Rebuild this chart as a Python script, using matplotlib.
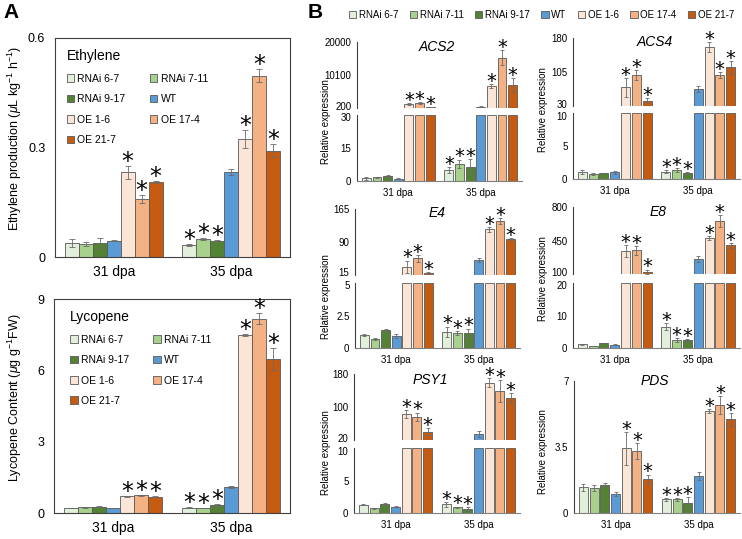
import matplotlib
matplotlib.use('Agg')
import matplotlib.pyplot as plt
from matplotlib.patches import Patch
from matplotlib.transforms import ScaledTranslation

plt.rcParams['font.family'] = ['Liberation Sans', 'DejaVu Sans']
plt.rcParams['mathtext.fontset'] = 'custom'
plt.rcParams['mathtext.rm'] = 'Liberation Sans'
plt.rcParams['mathtext.it'] = 'Liberation Sans:italic'

lines = ['RNAi 6-7', 'RNAi 7-11', 'RNAi 9-17', 'WT', 'OE 1-6', 'OE 17-4', 'OE 21-7']
colors = ['#e2efda', '#a9d18e', '#548235', '#5b9bd5', '#fbe5d6', '#f4b183', '#c55a11']
stages = ['31 dpa', '35 dpa']
# 1 = marked with an asterisk
sig = [[0, 0, 0, 0, 1, 1, 1],
       [1, 1, 1, 0, 1, 1, 1]]

ethylene = [[0.038, 0.036, 0.039, 0.045, 0.232, 0.159, 0.206],
            [0.032, 0.049, 0.045, 0.232, 0.323, 0.497, 0.291]]
ethylene_err = [[0.010, 0.006, 0.013, 0.002, 0.017, 0.010, 0.002],
                [0.003, 0.002, 0.002, 0.008, 0.025, 0.017, 0.018]]
lycopene = [[0.21, 0.24, 0.26, 0.22, 0.70, 0.75, 0.68],
            [0.22, 0.22, 0.32, 1.08, 7.47, 8.17, 6.49]]
lycopene_err = [[0.01, 0.01, 0.02, 0.01, 0.01, 0.02, 0.02],
                [0.02, 0.01, 0.05, 0.04, 0.04, 0.23, 0.46]]

acs2 = [[1.2, 1.7, 2.4, 1.0, 1400, 1700, 500],
        [5.0, 7.9, 6.5, 700, 6800, 15200, 7100]]
acs2_err = [[0.6, 0.3, 0.5, 0.3, 250, 250, 60],
            [1.3, 1.8, 3.5, 100, 500, 2200, 2000]]
acs4 = [[1.1, 0.76, 0.91, 1.0, 71, 99, 42],
        [1.1, 1.37, 0.91, 67, 160, 99, 116]]
acs4_err = [[0.3, 0.1, 0.05, 0.2, 20, 11, 5],
            [0.25, 0.25, 0.1, 7, 11, 6, 14]]
e4 = [[1.02, 0.71, 1.4, 0.96, 34, 53, 19],
      [1.27, 1.15, 1.2, 49, 119, 139, 97]]
e4_err = [[0.05, 0.1, 0.06, 0.15, 14, 7.6, 2],
          [0.38, 0.15, 0.3, 4, 5, 6.5, 3]]
e8 = [[1.3, 0.7, 1.6, 1.1, 343, 351, 127],
      [6.6, 2.5, 2.4, 260, 476, 657, 403]]
e8_err = [[0.15, 0.1, 0.1, 0.1, 61, 47, 21],
          [1.1, 0.5, 0.5, 30, 21, 61, 23]]
psy1 = [[1.28, 0.77, 1.43, 1.0, 83, 76.5, 40],
        [1.38, 0.92, 0.67, 34.5, 159, 139, 121]]
psy1_err = [[0.08, 0.05, 0.08, 0.1, 10, 10, 8],
            [0.36, 0.1, 0.3, 6.5, 10.5, 26, 12]]
pds = [[1.34, 1.31, 1.48, 0.99, 3.41, 3.27, 1.77],
       [0.71, 0.71, 0.53, 1.94, 5.39, 5.71, 4.95]]
pds_err = [[0.2, 0.15, 0.1, 0.1, 0.88, 0.42, 0.25],
           [0.08, 0.08, 0.3, 0.2, 0.1, 0.49, 0.35]]

# y ticks: (lower part, upper part of the broken axis)
acs2_ticks = ([0, 15, 30], [200, 10100, 20000])
acs4_ticks = ([0, 5, 10], [30, 105, 180])
e4_ticks = ([0, 2.5, 5], [15, 90, 165])
e8_ticks = ([0, 10, 20], [100, 450, 800])
psy1_ticks = ([0, 5, 10], [20, 100, 180])
pds_ticks = [0, 3.5, 7]

EDGE = '#595959'
W, H = 742, 539
fig = plt.figure(figsize=(W / 100, H / 100), dpi=100)


def add_ax(left, top, right, bottom):
    return fig.add_axes([left / W, 1 - bottom / H, (right - left) / W, (bottom - top) / H])


def draw(ax, means, errs, slot, width, lo, hi, star_fs, cap, star_off):
    for s in range(2):
        for i in range(7):
            x = s + (i - 3) * slot
            v, e = means[s][i], errs[s][i]
            if lo > 0:
                if v <= lo:
                    continue
                ax.bar(x, v - lo, width, bottom=lo, color=colors[i], edgecolor=EDGE, lw=0.6)
            else:
                ax.bar(x, min(v, hi), width, color=colors[i], edgecolor=EDGE, lw=0.6)
                if v > hi:
                    continue
            ax.errorbar(x, v, yerr=e, color='#6a6a6a', elinewidth=0.6, capsize=cap,
                        capthick=0.6, fmt='none')
            if sig[s][i]:
                ax.annotate('*', (x, v + e), xytext=(0, star_off), textcoords='offset points',
                            ha='center', va='baseline', fontsize=star_fs,
                            family='DejaVu Sans', annotation_clip=False)
    ax.set_xlim(-0.5, 1.5)
    ax.set_ylim(lo, hi)


def style(ax, ticks, fs, pad):
    ax.set_yticks(ticks)
    ax.set_yticklabels(['{:g}'.format(t) for t in ticks])
    ax.tick_params(axis='y', length=0, labelsize=fs, pad=pad)


def nudge(label, dy_pt):
    label.set_transform(label.get_transform() + ScaledTranslation(0, dy_pt / 72, fig.dpi_scale_trans))


# ---------- panel A ----------
def panel_a(box, means, errs, ymax, ticks, title, ylabel, ylab_y, leg_anchor):
    ax = add_ax(*box)
    draw(ax, means, errs, 0.1187, 0.1187, 0, ymax, 17, 2, -2.2)
    style(ax, ticks, 9, 7)
    ax.set_xticks([0, 1])
    ax.set_xticklabels(stages)
    ax.tick_params(axis='x', length=0, labelsize=10, pad=6)
    for sp in ax.spines.values():
        sp.set_color('#404040')
        sp.set_linewidth(0.8)
    handles = [Patch(facecolor=c, edgecolor=EDGE, lw=0.6) for c in colors]
    order = [0, 2, 4, 6, 1, 3, 5]
    leg = ax.legend([handles[k] for k in order], [lines[k] for k in order], ncol=2,
                    title=title, title_fontsize=10, fontsize=7.5, frameon=False,
                    loc='upper left', bbox_to_anchor=leg_anchor, alignment='left',
                    handlelength=0.75, handleheight=0.75, handletextpad=0.3,
                    columnspacing=2.3, labelspacing=1.0, borderpad=0)
    leg._legend_box.sep = 8
    fig.text(15 / W, 1 - ylab_y / H, ylabel, rotation=90, ha='center', va='center', fontsize=9)
    return ax


panel_a((55, 38, 290, 257), ethylene, ethylene_err, 0.6, [0, 0.3, 0.6], 'Ethylene',
        r'Ethylene production ($\mu$L kg$^{-1}$ h$^{-1}$)', 138, (0.027, 0.975))
panel_a((54, 299, 290, 513), lycopene, lycopene_err, 9, [0, 3, 6, 9], 'Lycopene',
        r'Lycopene Content ($\mu$g g$^{-1}$FW)', 398, (0.045, 0.975))

# ---------- panel B ----------
SLOT, BW = 0.129, 0.108


def panel_b(left, right, up, low, means, errs, ticks, gene, title_xy, ylab_xy):
    lo_ax = add_ax(left, low[0], right, low[1])
    draw(lo_ax, means, errs, SLOT, BW, 0, ticks[0][-1], 14, 1.5, -2.0)
    style(lo_ax, ticks[0], 7, 4)
    lo_ax.set_xticks([0, 1])
    lo_ax.set_xticklabels(stages)
    lo_ax.tick_params(axis='x', length=0, labelsize=7, pad=5)
    for k in ['top', 'right']:
        lo_ax.spines[k].set_visible(False)
    lo_ax.spines['left'].set_color('#404040')
    lo_ax.spines['bottom'].set_color('#808080')
    for sp in lo_ax.spines.values():
        sp.set_linewidth(0.8)
    if up is not None:
        up_ax = add_ax(left, up[0], right, up[1])
        draw(up_ax, means, errs, SLOT, BW, ticks[1][0], ticks[1][-1], 14, 1.5, -2.0)
        style(up_ax, ticks[1], 7, 4)
        up_ax.set_xticks([])
        for k in ['top', 'right', 'bottom']:
            up_ax.spines[k].set_visible(False)
        up_ax.spines['left'].set_color('#404040')
        up_ax.spines['left'].set_linewidth(0.8)
        # keep the two labels at the break from running into each other
        nudge(up_ax.get_yticklabels()[0], 1.8)
        nudge(lo_ax.get_yticklabels()[-1], -1.8)
    fig.text(title_xy[0] / W, 1 - title_xy[1] / H, gene, style='italic', fontsize=10,
             ha='center', va='center')
    fig.text(ylab_xy[0] / W, 1 - ylab_xy[1] / H, 'Relative expression', rotation=90,
             ha='center', va='center', fontsize=7)


panel_b(357, 522, (41.7, 108.3), (115, 181), acs2, acs2_err, acs2_ticks, 'ACS2', (437, 47), (326, 122))
panel_b(573, 740, (38.3, 106), (113.3, 179), acs4, acs4_err, acs4_ticks, 'ACS4', (655, 42), (543, 110))
panel_b(355, 520, (209.3, 275), (282.7, 348.3), e4, e4_err, e4_ticks, 'E4', (437, 213), (326, 297))
panel_b(573, 740, (207.3, 274.3), (282.7, 348.3), e8, e8_err, e8_ticks, 'E8', (658, 212), (543, 279))
panel_b(354, 520, (374, 440), (448.3, 513.3), psy1, psy1_err, psy1_ticks, 'PSY1', (430, 380), (326, 453))
panel_b(574, 740, None, (380.7, 512.7), pds, pds_err, (pds_ticks,), 'PDS', (655, 381), (543, 452))

handles = [Patch(facecolor=c, edgecolor=EDGE, lw=0.6) for c in colors]
fig.legend(handles, lines, ncol=7, loc='center', bbox_to_anchor=(541.5 / W, 1 - 15 / H),
           frameon=False, fontsize=7, handlelength=0.75, handleheight=0.75,
           handletextpad=0.25, columnspacing=1.2, borderpad=0)

fig.text(3 / W, 1 - 13 / H, 'A', fontsize=15, fontweight='bold', va='center')
fig.text(308 / W, 1 - 13 / H, 'B', fontsize=15, fontweight='bold', va='center')

fig.savefig('out.png', dpi=100)
